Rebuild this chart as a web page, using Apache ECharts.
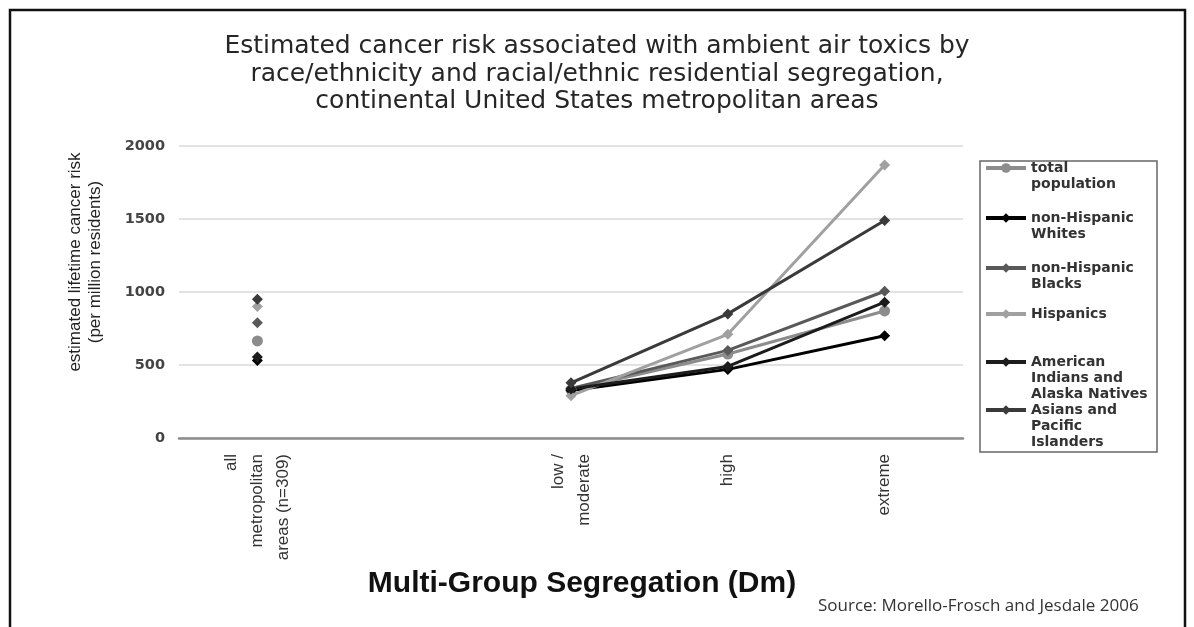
<!DOCTYPE html>
<html><head><meta charset="utf-8">
<script src="https://cdn.jsdelivr.net/npm/echarts@6/dist/echarts.min.js"></script>
<style>html,body{margin:0;padding:0;background:#fff}#c{width:1194px;height:627px}</style>
</head><body><div id="c"></div>
<script>
const categories = ['all\nmetropolitan\nareas (n=309)', '', 'low /\nmoderate', 'high', 'extreme'];
const yTicks = [0, 500, 1000, 1500, 2000];
const totalPopulation = [665, null, 330, 575, 870];
const nhWhites = [530, null, 325, 470, 700];
const nhBlacks = [790, null, 340, 600, 1005];
const hispanics = [900, null, 290, 710, 1870];
const amIndians = [555, null, 335, 490, 930];
const asiansPI = [950, null, 378, 850, 1490];

const seriesDefs = [
  {name: 'total\npopulation', data: totalPopulation, color: '#8c8c8c', symbol: 'circle', size: 11, lines: 2, y: 168},
  {name: 'non-Hispanic\nWhites', data: nhWhites, color: '#000000', symbol: 'diamond', size: 11, lines: 2, y: 218},
  {name: 'non-Hispanic\nBlacks', data: nhBlacks, color: '#595959', symbol: 'diamond', size: 11, lines: 2, y: 268},
  {name: 'Hispanics', data: hispanics, color: '#a0a0a0', symbol: 'diamond', size: 11, lines: 1, y: 314},
  {name: 'American\nIndians and\nAlaska Natives', data: amIndians, color: '#1c1c1c', symbol: 'diamond', size: 11, lines: 3, y: 362},
  {name: 'Asians and\nPacific\nIslanders', data: asiansPI, color: '#3a3a3a', symbol: 'diamond', size: 11, lines: 3, y: 410}
];

const LH = 16;
const legends = seriesDefs.map(s => {
  const H = (2 * s.lines - 1) * LH;
  return {
    data: [s.name],
    left: 984, top: s.y - H / 2, padding: 0,
    itemWidth: 40, itemHeight: 12, itemGap: 0,
    lineStyle: {width: 4},
    formatter: n => '\n'.repeat(s.lines - 1) + n,
    textStyle: {fontFamily: 'DejaVu Sans', fontWeight: 'bold', fontSize: 14, color: '#333', lineHeight: LH}
  };
});

const chart = echarts.init(document.getElementById('c'), null, {renderer: 'canvas'});
chart.setOption({
  animation: false,
  backgroundColor: '#fff',
  title: [
    {text: 'Estimated cancer risk associated with ambient air toxics by\nrace/ethnicity and racial/ethnic residential segregation,\ncontinental United States metropolitan areas',
     left: 'center', top: 28,
     textStyle: {fontFamily: 'DejaVu Sans', fontWeight: 'normal', fontSize: 25, lineHeight: 27.5, color: '#262626'}},
    {text: 'Source: Morello-Frosch and Jesdale 2006', left: 818, top: 598, padding: 0,
     textStyle: {fontFamily: 'Open Sans', fontWeight: 'normal', fontSize: 17, color: '#333'}}
  ],
  legend: legends,
  grid: {left: 179, right: 231, top: 146, bottom: 189, containLabel: false},
  xAxis: {
    type: 'category', data: categories, boundaryGap: true,
    axisLine: {lineStyle: {color: '#8c8c8c', width: 2.5}},
    axisTick: {show: false},
    axisLabel: {rotate: 90, margin: 16, fontFamily: 'Liberation Sans', fontSize: 17, lineHeight: 26, color: '#333', interval: 0},
    name: 'Multi-Group Segregation (Dm)', nameLocation: 'middle', nameGap: 131,
    nameTextStyle: {fontFamily: 'Liberation Sans', fontWeight: 'bold', fontSize: 30, color: '#111', padding: [0, 0, 0, 22]}
  },
  yAxis: {
    type: 'value', min: 0, max: 2000, interval: 500,
    axisLine: {show: false}, axisTick: {show: false},
    splitLine: {lineStyle: {color: '#d9d9d9', width: 1.5}},
    axisLabel: {margin: 14, fontFamily: 'DejaVu Sans', fontWeight: 'bold', fontSize: 14.5, color: '#444',
      formatter: v => yTicks.includes(v) ? String(v) : ''},
    name: 'estimated lifetime cancer risk\n(per million residents)', nameLocation: 'middle', nameRotate: 90, nameGap: 74,
    nameTextStyle: {fontFamily: 'Liberation Sans', fontSize: 17, lineHeight: 20, color: '#222', padding: [0, 0, 0, 60]}
  },
  series: seriesDefs.map(s => ({
    name: s.name, type: 'line', data: s.data, connectNulls: false,
    symbol: s.symbol, symbolSize: s.size, showSymbol: true,
    itemStyle: {color: s.color}, lineStyle: {color: s.color, width: 3}
  })),
  graphic: [
    {type: 'rect', shape: {x: 10, y: 10, width: 1175, height: 640}, style: {fill: 'none', stroke: '#111', lineWidth: 2.5}, silent: true, z: 100},
    {type: 'rect', shape: {x: 980, y: 161, width: 177, height: 291}, style: {fill: 'none', stroke: '#666', lineWidth: 1.5}, silent: true}
  ]
});
</script></body></html>
